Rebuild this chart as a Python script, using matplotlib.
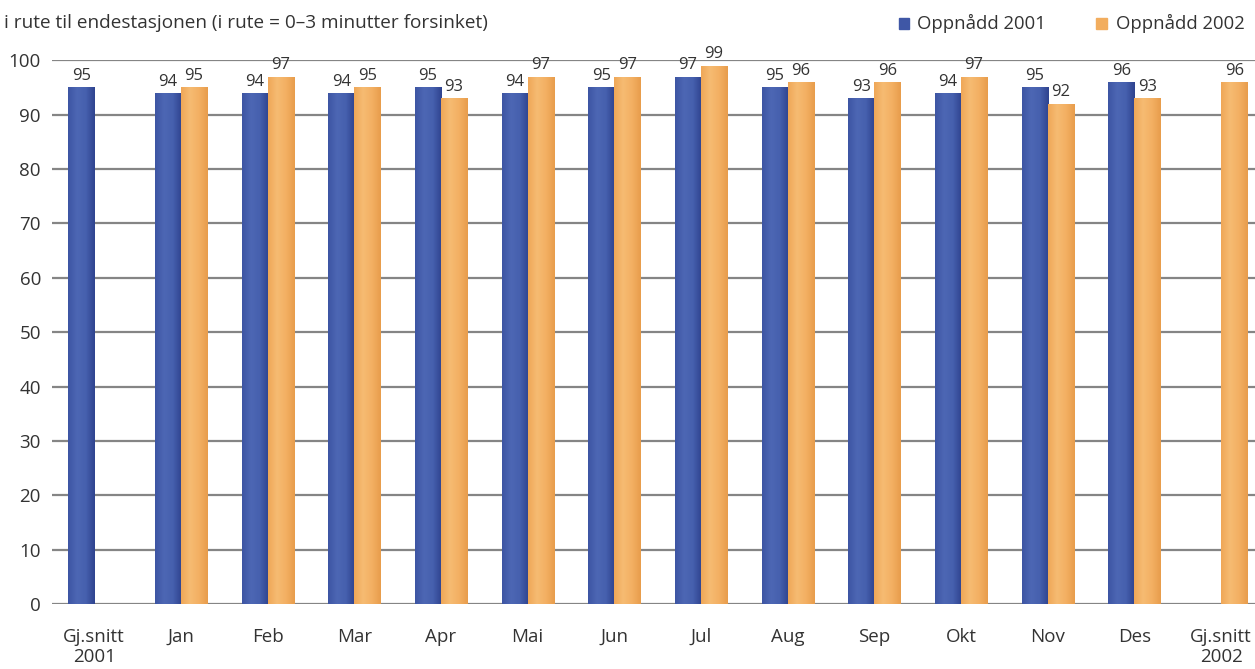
import matplotlib.pyplot as plt
import numpy as np
from matplotlib.colors import LinearSegmentedColormap

plt.rcParams['font.family'] = ['Open Sans', 'DejaVu Sans']

categories = ['Gj.snitt\n2001', 'Jan', 'Feb', 'Mar', 'Apr', 'Mai', 'Jun',
              'Jul', 'Aug', 'Sep', 'Okt', 'Nov', 'Des', 'Gj.snitt\n2002']
# None = no bar for that series
oppnadd_2001 = [95, 94, 94, 94, 95, 94, 95, 97, 95, 93, 94, 95, 96, None]
oppnadd_2002 = [None, 95, 97, 95, 93, 97, 97, 99, 96, 96, 97, 92, 93, 96]

blue = '#3f57a6'
orange = '#f2ad5e'
blue_cmap = LinearSegmentedColormap.from_list('b', ['#3d55a3', '#4d67b4', '#4660ae', '#2f438f'])
orange_cmap = LinearSegmentedColormap.from_list('o', ['#efa758', '#f6bb72', '#f3b063', '#e89d4c'])

fig = plt.figure(figsize=(12.55, 6.69), dpi=100)
ax = fig.add_axes([0.0415, 0.097, 0.9585, 0.813])

x = np.arange(len(categories))
w = 0.3
grad = np.linspace(0, 1, 64).reshape(1, -1)


def shaded_bars(xpos, vals, color, cmap):
    for xi, v in zip(xpos, vals):
        if v is None:
            continue
        rect = ax.bar(xi, v, w, color=color, linewidth=0, zorder=2)[0]
        im = ax.imshow(grad, cmap=cmap, aspect='auto', zorder=3,
                       extent=[xi - w / 2, xi + w / 2, 0, v])
        im.set_clip_path(rect)
        ax.text(xi, v + 0.6, str(v), ha='center', va='bottom',
                fontsize=12, color='#333333', zorder=4)


shaded_bars(x - w / 2, oppnadd_2001, blue, blue_cmap)
shaded_bars(x + w / 2, oppnadd_2002, orange, orange_cmap)

ax.set_xlim(-0.485, 13.39)
ax.set_ylim(0, 100)
ax.set_yticks(range(0, 101, 10))
ax.set_xticks(x)
ax.set_xticklabels(categories, fontsize=13.5, color='#333333', linespacing=1.15)
ax.tick_params(axis='y', labelsize=13.5, labelcolor='#333333', length=0, pad=8)
ax.tick_params(axis='x', length=0, pad=17)
ax.yaxis.grid(True, color='#858585', linewidth=1.6, zorder=0)
ax.set_axisbelow(True)
for s in ax.spines.values():
    s.set_visible(False)

fig.text(0.003, 0.965, 'i rute til endestasjonen (i rute = 0\u20133 minutter forsinket)',
         fontsize=13.7, color='#333333', va='center')

# legend
fig.patches.append(plt.Rectangle((0.7165, 0.957), 0.0082, 0.016,
                                 transform=fig.transFigure, color=blue))
fig.text(0.7305, 0.965, 'Oppnådd 2001', fontsize=13.3, color='#333333', va='center')
fig.patches.append(plt.Rectangle((0.8735, 0.957), 0.0082, 0.016,
                                 transform=fig.transFigure, color=orange))
fig.text(0.8895, 0.965, 'Oppnådd 2002', fontsize=13.3, color='#333333', va='center')

fig.savefig('out.png', dpi=100)
